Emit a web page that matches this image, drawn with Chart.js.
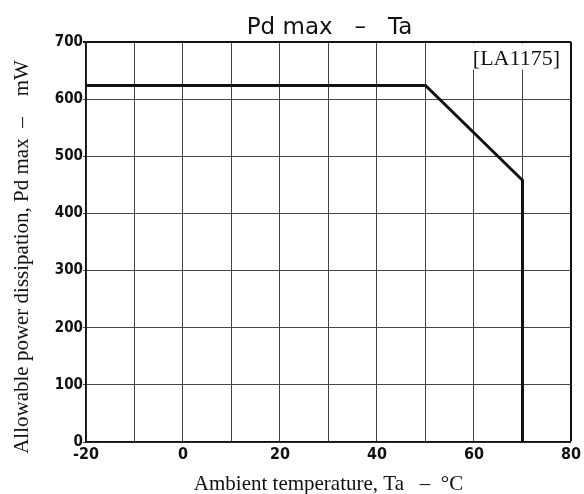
<!DOCTYPE html>
<html><head><meta charset="utf-8">
<script src="https://cdn.jsdelivr.net/npm/chart.js@4"></script>
<style>html,body{margin:0;padding:0;background:#fff}#wrap{width:584px;height:494px}</style>
</head><body><div id="wrap"><canvas id="c" width="584" height="494"></canvas></div>
<script>
const chartTitle = "Pd max   \u2013   Ta";
const partLabel = "[LA1175]";
const xTitle = "Ambient temperature, Ta   \u2013  \u00B0C";
const yTitle = "Allowable power dissipation, Pd max  \u2013    mW";
const temps = [-20, 50, 70, 70];
const power = [624, 624, 458, 0];
const xRange = [-20, 80];
const yRange = [0, 700];
const xStep = 10;
const yStep = 100;

const textPlugin = {
  id: 'texts',
  beforeDatasetsDraw(chart) {
    const {ctx, chartArea: a} = chart;
    ctx.save();
    ctx.font = '22px "Liberation Serif"';
    const w = ctx.measureText(partLabel).width;
    ctx.fillStyle = '#fff';
    ctx.fillRect(a.right - w - 16, a.top + 1.5, w + 14, 26);
    ctx.restore();
  },
  afterDraw(chart) {
    const {ctx, chartArea: a} = chart;
    const cx = (a.left + a.right) / 2;
    ctx.save();
    ctx.fillStyle = '#111';
    ctx.textBaseline = 'alphabetic';
    ctx.textAlign = 'center';
    ctx.font = '23px "DejaVu Sans"';
    ctx.fillText(chartTitle, cx + 1, a.top - 8);
    ctx.font = '21px "Liberation Serif"';
    ctx.fillText(xTitle, cx, a.bottom + 48);
    ctx.save();
    ctx.translate(28, (a.top + a.bottom) / 2 + 15);
    ctx.rotate(-Math.PI / 2);
    ctx.fillText(yTitle, 0, 0);
    ctx.restore();
    ctx.font = '22px "Liberation Serif"';
    ctx.textAlign = 'right';
    ctx.fillText(partLabel, a.right - 11, a.top + 23);
    ctx.restore();
  }
};

const edgeColor = (max) => (c) => (c.tick && c.tick.value === max ? '#111' : '#444');
const edgeWidth = (max) => (c) => (c.tick && c.tick.value === max ? 2 : 1);

new Chart(document.getElementById('c'), {
  type: 'scatter',
  data: {
    datasets: [{
      data: temps.map((t, i) => ({x: t, y: power[i]})),
      showLine: true,
      borderColor: '#111',
      borderWidth: 3,
      pointRadius: 0,
      tension: 0
    }]
  },
  options: {
    responsive: false,
    animation: false,
    devicePixelRatio: 1,
    layout: {padding: {left: 0, right: 8, top: 42, bottom: 0}},
    plugins: {legend: {display: false}, tooltip: {enabled: false}, title: {display: false}},
    scales: {
      x: {
        type: 'linear', min: xRange[0], max: xRange[1],
        afterFit(s) { s.height = 52; },
        ticks: {stepSize: xStep, autoSkip: false, maxRotation: 0, padding: 3,
          color: '#111', font: {family: '"DejaVu Sans Condensed", "DejaVu Sans"', size: 16, weight: 'bold'},
          callback: (v) => (v % 20 === 0 ? String(v) : '')},
        grid: {color: edgeColor(xRange[1]), lineWidth: edgeWidth(xRange[1]), drawTicks: false},
        border: {color: '#111', width: 1.5}
      },
      y: {
        min: yRange[0], max: yRange[1],
        afterFit(s) { s.width = 86; },
        ticks: {stepSize: yStep, padding: 0, color: '#111',
          font: {family: '"DejaVu Sans Condensed", "DejaVu Sans"', size: 15, weight: 'bold'}},
        grid: {color: edgeColor(yRange[1]), lineWidth: edgeWidth(yRange[1]), tickLength: 3},
        border: {color: '#111', width: 1.5}
      }
    }
  },
  plugins: [textPlugin]
});
</script></body></html>
